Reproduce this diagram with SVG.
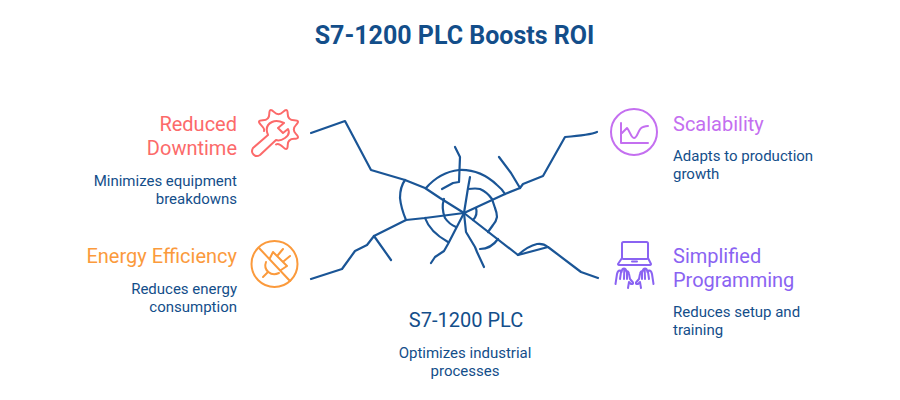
<svg xmlns="http://www.w3.org/2000/svg" width="900" height="400" viewBox="0 0 900 400">
<style>
text{font-family:Roboto,"Liberation Sans",sans-serif}
.t{font-size:25px;font-weight:700;fill:#134e8a;text-anchor:middle}
.h{font-size:20px}
.d{font-size:15px;fill:#134e8a}
.e{text-anchor:end}
.m{text-anchor:middle}
.c{fill:none;stroke:#1a5596;stroke-width:2.200;stroke-linecap:round;stroke-linejoin:round}
.i{fill:none;stroke-width:2;stroke-linecap:round;stroke-linejoin:round}
</style>
<defs>
<path id="hand" d="M615.500,284 L617,274 Q618,270 620,270.500 Q621,271 621.500,272 Q622,268.500 624,268.500 Q626,268.500 626.500,271.500 Q628.500,270.500 629,274 L630,279 L633,282.500 Q633.500,284.500 631,284 L629,282 L628,288 M620,279 L621,272 M624,279 L624.300,270 M627,279 L627,272"/>
</defs>
<rect width="900" height="400" fill="#fff"/>
<text class="t" x="454.500" y="44">S7-1200 PLC Boosts ROI</text>
<g id="connectors" class="c">
<path d="M311,133 L345,121 L371,170 L405,180 L425,188 L440,198 L464,213"/>
<path d="M597,132 Q590,135 565,137 L543,176 L523,184 L520,188 L505,194 L464,213"/>
<path d="M499,157 L511,173 L520,188"/>
<path d="M311,279 L342,269 L355,251 L367,245 L374,236 L406,220 L425,218 L464,213"/>
<path d="M374,236 L391,260"/>
<path d="M405,180 Q400,187 400,198 Q401,208 406,220"/>
<path d="M598,278 L581,272 L548,247 L518,255 L464,213"/>
<path d="M518,255 Q528,246 537,244 Q543,243 548,247"/>
<path d="M455,147 L460,157 L459,182 L453,183 L442,189"/>
<path d="M470,177 L468,188 L464,213"/>
<path d="M426,188 Q440,172 459,170 Q480,169 497,185 Q502,189 505,194"/>
<path d="M468,189 Q476,188 480,189 Q487,192 492,199 L495,208 Q497,213 497,217 Q496,222 493,225 L488,232"/>
<path d="M476,208 Q478,215 473,220"/>
<path d="M444,199 Q441,208 445,218 Q449,224 456,227"/>
<path d="M425,218 Q430,232 448,242"/>
<path d="M464,213 L448,244 L444,251 L435,257 L431,263"/>
<path d="M464,213 L466,232 L475,247 L477,252 L484,267"/>
<path d="M480,249 Q491,249 498,239"/>
</g>
<g id="reduced-downtime">
<text class="h e" x="237" y="131" fill="#fc6a6a">Reduced</text>
<text class="h e" x="237" y="155" fill="#fc6a6a">Downtime</text>
<text class="d e" x="237" y="186">Minimizes equipment</text>
<text class="d e" x="237" y="204">breakdowns</text>
<path class="i" stroke="#fc6a6a" d="M276,144.500 Q278.500,142.500 283.100,147.100 Q287.700,151.700 287.700,145.200 Q287.700,138.700 294.200,138.700 Q300.700,138.700 296.100,134.100 Q291.500,129.500 296.100,124.900 Q300.700,120.300 294.200,120.300 Q287.700,120.300 287.700,113.800 Q287.700,107.300 283.100,111.900 Q278.500,116.500 273.900,111.900 Q269.300,107.300 269.300,113.800 Q269.300,120.300 262.800,120.300 Q256.300,120.300 260.900,124.900 Q265,129 264,131"/>
<path class="i" stroke="#fc6a6a" d="M253,148 L268,135 C265,128 268,124 272,122 C276,120 280,121 284,123 L278,128 L283,133 L288,129 C290,133 288,136 285,138 C282,140 279,141 276,140 L260,155 C255,158 250,153 253,148 Z"/>
</g>
<g id="energy-efficiency">
<text class="h e" x="237" y="263" fill="#fb9a3c">Energy Efficiency</text>
<text class="d e" x="237" y="294">Reduces energy</text>
<text class="d e" x="237" y="312">consumption</text>
<g class="i" stroke="#fb9a3c">
<circle cx="274.500" cy="264" r="23"/>
<path d="M259,248 L290,281"/>
<path d="M270,258 L273,252 L287,266 L281,270"/>
<path d="M278,255 L283,249 M284,261 L290,256"/>
<path d="M266,262 C263,270 271,277 279,273"/>
<path d="M268,272 L263,277"/>
</g>
</g>
<g id="scalability">
<text class="h" x="673" y="131" fill="#c46ff0">Scalability</text>
<text class="d" x="673" y="161">Adapts to production</text>
<text class="d" x="673" y="179">growth</text>
<g class="i" stroke="#c46ff0">
<circle cx="634" cy="132" r="23"/>
<path d="M621,123 V143 H648"/>
<path d="M622,133 L627,128 C630,131 631,138 634,138 C638,138 638,128 643,127 Q646,126 648,126"/>
</g>
</g>
<g id="simplified-programming">
<text class="h" x="673" y="263" fill="#8a63f2">Simplified</text>
<text class="h" x="673" y="287" fill="#8a63f2">Programming</text>
<text class="d" x="673" y="317">Reduces setup and</text>
<text class="d" x="673" y="335">training</text>
<g class="i" stroke="#8a63f2">
<rect x="622" y="242" width="26" height="17" rx="1.500"/>
<path d="M622,258 L618,264 Q618,265 620,265 H649 Q651,265 651,264 L648,258"/>
<path d="M632,261.500 H637"/>
<use href="#hand"/>
<use href="#hand" transform="translate(1269,0) scale(-1,1)"/>
</g>
</g>
<g id="s7-1200-plc">
<text class="h m" x="466" y="327" fill="#134e8a">S7-1200 PLC</text>
<text class="d m" x="465" y="358">Optimizes industrial</text>
<text class="d m" x="465" y="376">processes</text>
</g>
</svg>
